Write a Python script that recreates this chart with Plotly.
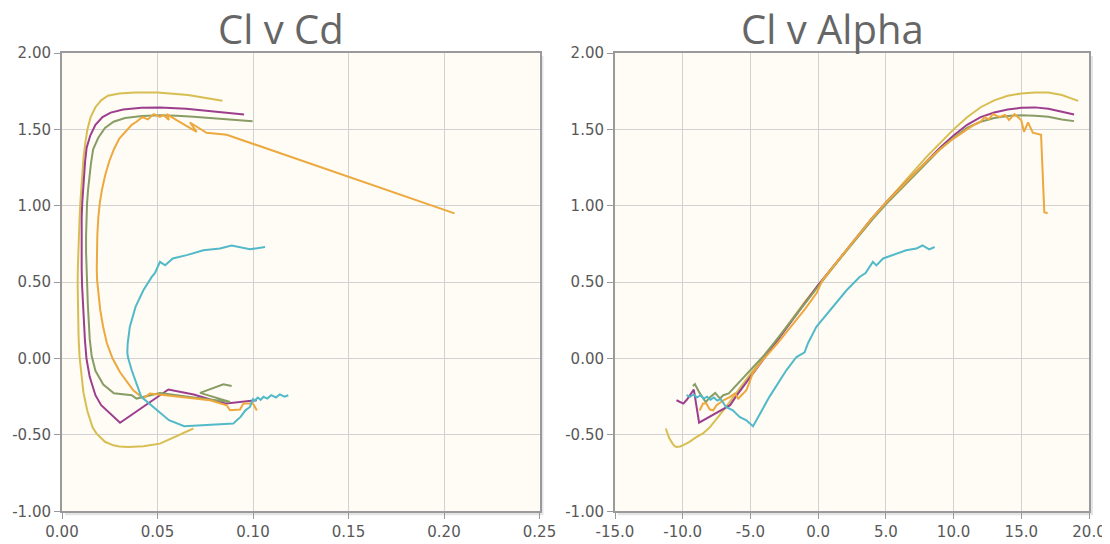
import plotly.graph_objects as go
from plotly.subplots import make_subplots

# ---------------- data (alpha [deg], Cl, Cd) ----------------
yellow_alpha = [-11.25, -11.0, -10.75, -10.6, -10.46, -10.2, -10.0, -9.5, -9.0, -8.5, -8.0, -7.0, -6.0, -5.0,
                -4.0, -3.0, -2.0, -1.0, 0.0, 1.0, 2.0, 3.0, 4.0, 5.0, 6.0, 7.0, 8.0, 9.0, 10.0, 11.0, 12.0,
                13.0, 14.0, 15.0, 16.0, 17.0, 18.0, 19.2]
yellow_cl = [-0.458, -0.52, -0.557, -0.574, -0.579, -0.576, -0.568, -0.545, -0.515, -0.49, -0.45, -0.34, -0.22,
             -0.10, 0.01, 0.13, 0.25, 0.37, 0.48, 0.59, 0.70, 0.81, 0.92, 1.02, 1.12, 1.22, 1.32, 1.41, 1.50,
             1.58, 1.645, 1.69, 1.72, 1.735, 1.742, 1.742, 1.725, 1.687]
yellow_cd = [0.0688, 0.0580, 0.0513, 0.0426, 0.0347, 0.0300, 0.0269, 0.0225, 0.0200, 0.0180, 0.0160, 0.0132,
             0.0112, 0.0100, 0.0092, 0.0087, 0.0084, 0.0083, 0.0082, 0.0083, 0.0085, 0.0088, 0.0092, 0.0096,
             0.0101, 0.0107, 0.0113, 0.0122, 0.0133, 0.0150, 0.0175, 0.0205, 0.0240, 0.0300, 0.0380, 0.0500,
             0.0660, 0.0840]

purple_alpha = [-10.46, -10.2, -9.95, -9.7, -9.45, -9.18, -8.79, -6.5, -6.0, -5.0, -4.0, -3.0, -2.0, -1.0, 0.0,
                1.0, 2.0, 3.0, 4.0, 5.0, 6.0, 7.0, 8.0, 9.0, 10.0, 11.0, 12.0, 13.0, 14.0, 15.0, 16.0, 17.0,
                18.0, 18.9]
purple_cl = [-0.273, -0.284, -0.295, -0.27, -0.235, -0.203, -0.42, -0.305, -0.24, -0.12, 0.0, 0.12, 0.24, 0.36,
             0.48, 0.59, 0.70, 0.81, 0.92, 1.02, 1.11, 1.20, 1.29, 1.38, 1.46, 1.53, 1.58, 1.61, 1.63, 1.641,
             1.644, 1.635, 1.615, 1.597]
purple_cd = [0.1020, 0.0940, 0.0860, 0.0780, 0.0690, 0.0557, 0.0304, 0.0205, 0.0175, 0.0145, 0.0128, 0.0120,
             0.0114, 0.0110, 0.0105, 0.0103, 0.0102, 0.0102, 0.0103, 0.0106, 0.0110, 0.0115, 0.0121, 0.0129,
             0.0148, 0.0175, 0.0212, 0.0255, 0.0320, 0.0417, 0.0513, 0.0650, 0.0820, 0.0953]

green_alpha = [-9.25, -9.1, -8.75, -8.3, -8.0, -7.6, -7.25, -7.0, -6.6, -6.0, -5.0, -4.0, -3.0, -2.0, -1.0, 0.0,
               1.0, 2.0, 3.0, 4.0, 5.0, 6.0, 7.0, 8.0, 9.0, 10.0, 11.0, 12.0, 13.0, 14.0, 15.0, 16.0, 17.0,
               18.0, 18.9]
green_cl = [-0.18, -0.168, -0.225, -0.285, -0.255, -0.225, -0.262, -0.24, -0.228, -0.17, -0.08, 0.02, 0.13,
            0.245, 0.36, 0.475, 0.585, 0.695, 0.805, 0.91, 1.01, 1.10, 1.19, 1.28, 1.37, 1.445, 1.51, 1.55,
            1.575, 1.588, 1.593, 1.59, 1.582, 1.565, 1.554]
green_cd = [0.0888, 0.0845, 0.0723, 0.0880, 0.0688, 0.0513, 0.0390, 0.0365, 0.0272, 0.0216, 0.0175, 0.0155,
            0.0145, 0.0139, 0.0135, 0.0132, 0.0128, 0.0126, 0.0126, 0.0128, 0.0131, 0.0136, 0.0143, 0.0152,
            0.0163, 0.0190, 0.0225, 0.0270, 0.0330, 0.0420, 0.0513, 0.0600, 0.0688, 0.0862, 0.0998]

orange_alpha = [-8.75, -8.5, -8.25, -8.0, -7.75, -7.5, -7.0, -6.5, -6.15, -5.9, -5.3, -4.8, -4.0, -3.0, -2.0,
                -1.0, -0.1, 0.3, 1.0, 2.0, 3.0, 4.0, 5.0, 6.0, 7.0, 8.0, 9.0, 10.0, 11.0, 11.5, 12.0, 12.3,
                12.6, 12.9, 13.4, 13.8, 14.1, 14.5, 15.0, 15.2, 15.5, 15.85, 16.46, 16.7, 16.95]
orange_cl = [-0.34, -0.295, -0.295, -0.334, -0.339, -0.306, -0.273, -0.251, -0.229, -0.262, -0.208, -0.09, 0.0,
             0.10, 0.21, 0.32, 0.43, 0.51, 0.59, 0.70, 0.81, 0.92, 1.02, 1.11, 1.20, 1.29, 1.37, 1.44, 1.50,
             1.53, 1.55, 1.58, 1.565, 1.60, 1.582, 1.595, 1.562, 1.60, 1.56, 1.484, 1.545, 1.478, 1.465,
             0.958, 0.95]
orange_cd = [0.1020, 0.1000, 0.0950, 0.0932, 0.0880, 0.0862, 0.0775, 0.0600, 0.0460, 0.0426, 0.0373, 0.0304,
             0.0265, 0.0235, 0.0215, 0.0200, 0.0190, 0.0184, 0.0182, 0.0182, 0.0185, 0.0190, 0.0198, 0.0210,
             0.0226, 0.0247, 0.0272, 0.0300, 0.0340, 0.0365, 0.0390, 0.0420, 0.0450, 0.0480, 0.0513, 0.0530,
             0.0560, 0.0548, 0.0600, 0.0705, 0.0670, 0.0757, 0.0862, 0.2040, 0.2055]

cyan_alpha = [-9.72, -9.45, -9.2, -8.95, -8.7, -8.45, -8.2, -7.95, -7.7, -7.45, -7.2, -6.8, -6.3, -5.8, -5.3,
              -5.05, -4.81, -4.56, -3.6, -2.35, -1.6, -1.0, -0.75, -0.13, 1.1, 2.1, 3.06, 3.5, 4.04, 4.3, 4.8,
              5.5, 6.5, 7.25, 7.7, 8.2, 8.6]
cyan_cl = [-0.24, -0.25, -0.235, -0.255, -0.24, -0.262, -0.25, -0.27, -0.255, -0.275, -0.265, -0.317, -0.339,
           -0.382, -0.404, -0.426, -0.443, -0.404, -0.251, -0.077, 0.01, 0.04, 0.10, 0.207, 0.338, 0.447, 0.534,
           0.56, 0.633, 0.61, 0.655, 0.677, 0.709, 0.72, 0.74, 0.715, 0.73]
cyan_cd = [0.1185, 0.1165, 0.1140, 0.1120, 0.1095, 0.1075, 0.1055, 0.1040, 0.1025, 0.1010, 0.1000, 0.0984,
           0.0960, 0.0935, 0.0915, 0.0897, 0.0640, 0.0560, 0.0415, 0.0365, 0.0345, 0.0342, 0.0344, 0.0355,
           0.0385, 0.0426, 0.0470, 0.0487, 0.0513, 0.0540, 0.0580, 0.0653, 0.0740, 0.0827, 0.0888, 0.0984,
           0.1063]

# ---------------- tick labels ----------------
cd_ticks = [0.0, 0.05, 0.10, 0.15, 0.20, 0.25]
cd_labels = ["0.00", "0.05", "0.10", "0.15", "0.20", "0.25"]
alpha_ticks = [-15, -10, -5, 0, 5, 10, 15, 20]
alpha_labels = ["-15.0", "-10.0", "-5.0", "0.0", "5.0", "10.0", "15.0", "20.0"]
cl_ticks = [-1.0, -0.5, 0.0, 0.5, 1.0, 1.5, 2.0]
cl_labels = ["-1.00", "-0.50", "0.00", "0.50", "1.00", "1.50", "2.00"]

series = [
    ("Polar 1", yellow_alpha, yellow_cl, yellow_cd, "#D8BE52"),
    ("Polar 2", purple_alpha, purple_cl, purple_cd, "#9C3D8D"),
    ("Polar 3", green_alpha, green_cl, green_cd, "#889C65"),
    ("Polar 4", orange_alpha, orange_cl, orange_cd, "#EDA83E"),
    ("Polar 5", cyan_alpha, cyan_cl, cyan_cd, "#52B9C9"),
]

# ---------------- layout geometry (pixels in the window) ----------------
W, H = 1110, 544
OFF = 8  # page body margin that the figure sits inside
ML, MR, MT, MB = 50, 10, 40, 30
PW, PH = W - ML - MR, H - MT - MB
L1, R1 = 62, 539.5
L2, R2 = 615, 1089
T, B = 53, 511.3


def fx(px):
    return (px - OFF - ML) / PW


def fy(py):
    return 1 - (py - OFF - MT) / PH


fig = make_subplots(rows=1, cols=2)
for name, a, cl, cd, col in series:
    fig.add_trace(go.Scatter(x=cd, y=cl, mode="lines", name=name, showlegend=False,
                             line=dict(color=col, width=2)), row=1, col=1)
    fig.add_trace(go.Scatter(x=a, y=cl, mode="lines", name=name, showlegend=False,
                             line=dict(color=col, width=2)), row=1, col=2)

tickfont = dict(family="DejaVu Sans", size=15, color="#585858")
axcommon = dict(showgrid=True, gridcolor="#d2d2d2", gridwidth=1, zeroline=False,
                showline=True, linecolor="#9a9a9a", linewidth=2, mirror=True,
                ticks="outside", ticklen=6, tickcolor="#9a9a9a", tickwidth=1,
                tickfont=tickfont, automargin=False, tickmode="array")

shadow = "rgba(0,0,0,0.10)"
shapes = []
for (l, r) in [(L1, R1), (L2, R2)]:
    shapes.append(dict(type="rect", xref="paper", yref="paper", layer="below",
                       x0=fx(r + 1), x1=fx(r + 4), y0=fy(B + 4), y1=fy(T + 3),
                       fillcolor=shadow, line=dict(width=0)))
    shapes.append(dict(type="rect", xref="paper", yref="paper", layer="below",
                       x0=fx(l + 3), x1=fx(r + 1), y0=fy(B + 4), y1=fy(B + 1),
                       fillcolor=shadow, line=dict(width=0)))

title_font = dict(family="Open Sans", size=40, color="#666666")
fig.update_layout(
    width=W, height=H,
    margin=dict(l=ML, r=MR, t=MT, b=MB, autoexpand=False),
    paper_bgcolor="white",
    plot_bgcolor="#FEFCF5",
    xaxis=dict(domain=[fx(L1), fx(R1)], range=[0, 0.25], tickvals=cd_ticks, ticktext=cd_labels, **axcommon),
    yaxis=dict(domain=[fy(B), fy(T)], range=[-1, 2], tickvals=cl_ticks, ticktext=cl_labels, **axcommon),
    xaxis2=dict(domain=[fx(L2), fx(R2)], range=[-15, 20], tickvals=alpha_ticks, ticktext=alpha_labels,
                **axcommon),
    yaxis2=dict(domain=[fy(B), fy(T)], range=[-1, 2], tickvals=cl_ticks, ticktext=cl_labels, **axcommon),
    annotations=[
        dict(text="Cl v Cd", x=fx(281), y=fy(28), xref="paper", yref="paper", showarrow=False,
             xanchor="center", yanchor="middle", font=title_font),
        dict(text="Cl v Alpha", x=fx(832), y=fy(28), xref="paper", yref="paper", showarrow=False,
             xanchor="center", yanchor="middle", font=title_font),
    ],
    shapes=shapes,
)

fig.write_html("out.html")
